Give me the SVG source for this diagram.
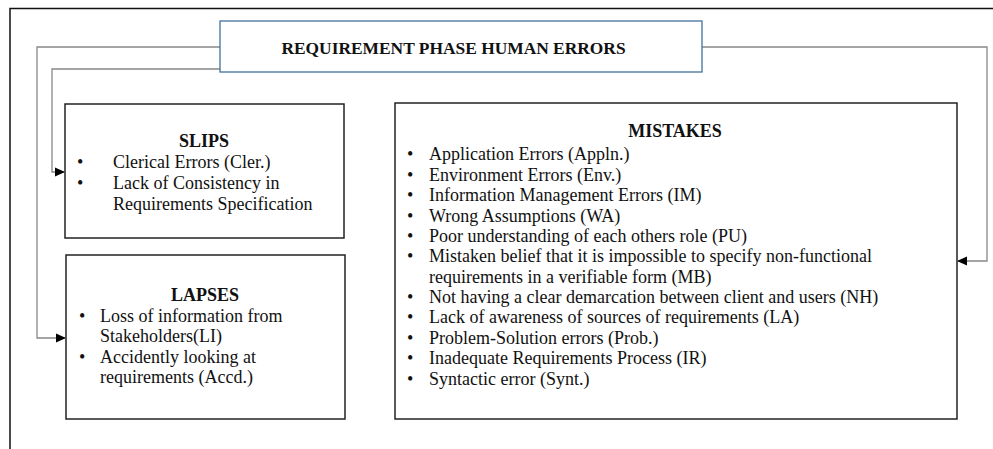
<svg xmlns="http://www.w3.org/2000/svg" width="993" height="449" viewBox="0 0 993 449">
<defs>
<style>
text{font-family:"Liberation Serif","Times New Roman",serif;font-size:18px;fill:#111}
.h{font-weight:bold}
.t{font-size:17.4px}
.box{fill:#fff;stroke:#222;stroke-width:1.5}
.conn{fill:none;stroke:#888;stroke-width:1.3}
</style>
<marker id="ah" markerWidth="10" markerHeight="10" refX="9" refY="5" orient="auto" markerUnits="userSpaceOnUse">
<path d="M0,0.5 L10,5 L0,9.5 Z" fill="#000"/>
</marker>
</defs>
<rect width="993" height="449" fill="#fff"/>
<path d="M10,449 V8.5 H993" fill="none" stroke="#111" stroke-width="1.5"/>
<g id="connectors">
<path class="conn" d="M220,47 H37 V338 H65" marker-end="url(#ah)"/>
<path class="conn" d="M220,69 H52 V172 H64" marker-end="url(#ah)"/>
<path class="conn" d="M702,47 H987 V261 H958" marker-end="url(#ah)"/>
</g>
<g id="title">
<rect x="220" y="21" width="482" height="51" fill="#fff" stroke="#41719c" stroke-width="1.3"/>
<text class="h t" x="453.5" y="54" text-anchor="middle">REQUIREMENT PHASE HUMAN ERRORS</text>
</g>
<g id="slips">
<rect class="box" x="65" y="104" width="279" height="134"/>
<text class="h" x="204" y="147" text-anchor="middle">SLIPS</text>
<text x="77" y="168">•</text><text x="113" y="168">Clerical Errors (Cler.)</text>
<text x="77" y="189">•</text><text x="113" y="189">Lack of Consistency in</text>
<text x="113" y="210">Requirements Specification</text>
</g>
<g id="lapses">
<rect class="box" x="66" y="255" width="279" height="164"/>
<text class="h" x="205" y="301" text-anchor="middle">LAPSES</text>
<text x="79" y="322">•</text><text x="100" y="322">Loss of information from</text>
<text x="100" y="342">Stakeholders(LI)</text>
<text x="79" y="363">•</text><text x="100" y="363">Accidently looking at</text>
<text x="100" y="383">requirements (Accd.)</text>
</g>
<g id="mistakes">
<rect class="box" x="395" y="103" width="562" height="316"/>
<text class="h" x="675" y="137" text-anchor="middle">MISTAKES</text>
<text x="407" y="160">•</text><text x="429" y="160">Application Errors (Appln.)</text>
<text x="407" y="181">•</text><text x="429" y="181">Environment Errors (Env.)</text>
<text x="407" y="201">•</text><text x="429" y="201">Information Management Errors (IM)</text>
<text x="407" y="222">•</text><text x="429" y="222">Wrong Assumptions (WA)</text>
<text x="407" y="242">•</text><text x="429" y="242">Poor understanding of each others role (PU)</text>
<text x="407" y="262">•</text><text x="429" y="262">Mistaken belief that it is impossible to specify non-functional</text>
<text x="429" y="283">requirements in a verifiable form (MB)</text>
<text x="407" y="303">•</text><text x="429" y="303">Not having a clear demarcation between client and users (NH)</text>
<text x="407" y="323">•</text><text x="429" y="323">Lack of awareness of sources of requirements (LA)</text>
<text x="407" y="344">•</text><text x="429" y="344">Problem-Solution errors (Prob.)</text>
<text x="407" y="364">•</text><text x="429" y="364">Inadequate Requirements Process (IR)</text>
<text x="407" y="385">•</text><text x="429" y="385">Syntactic error (Synt.)</text>
</g>
</svg>
